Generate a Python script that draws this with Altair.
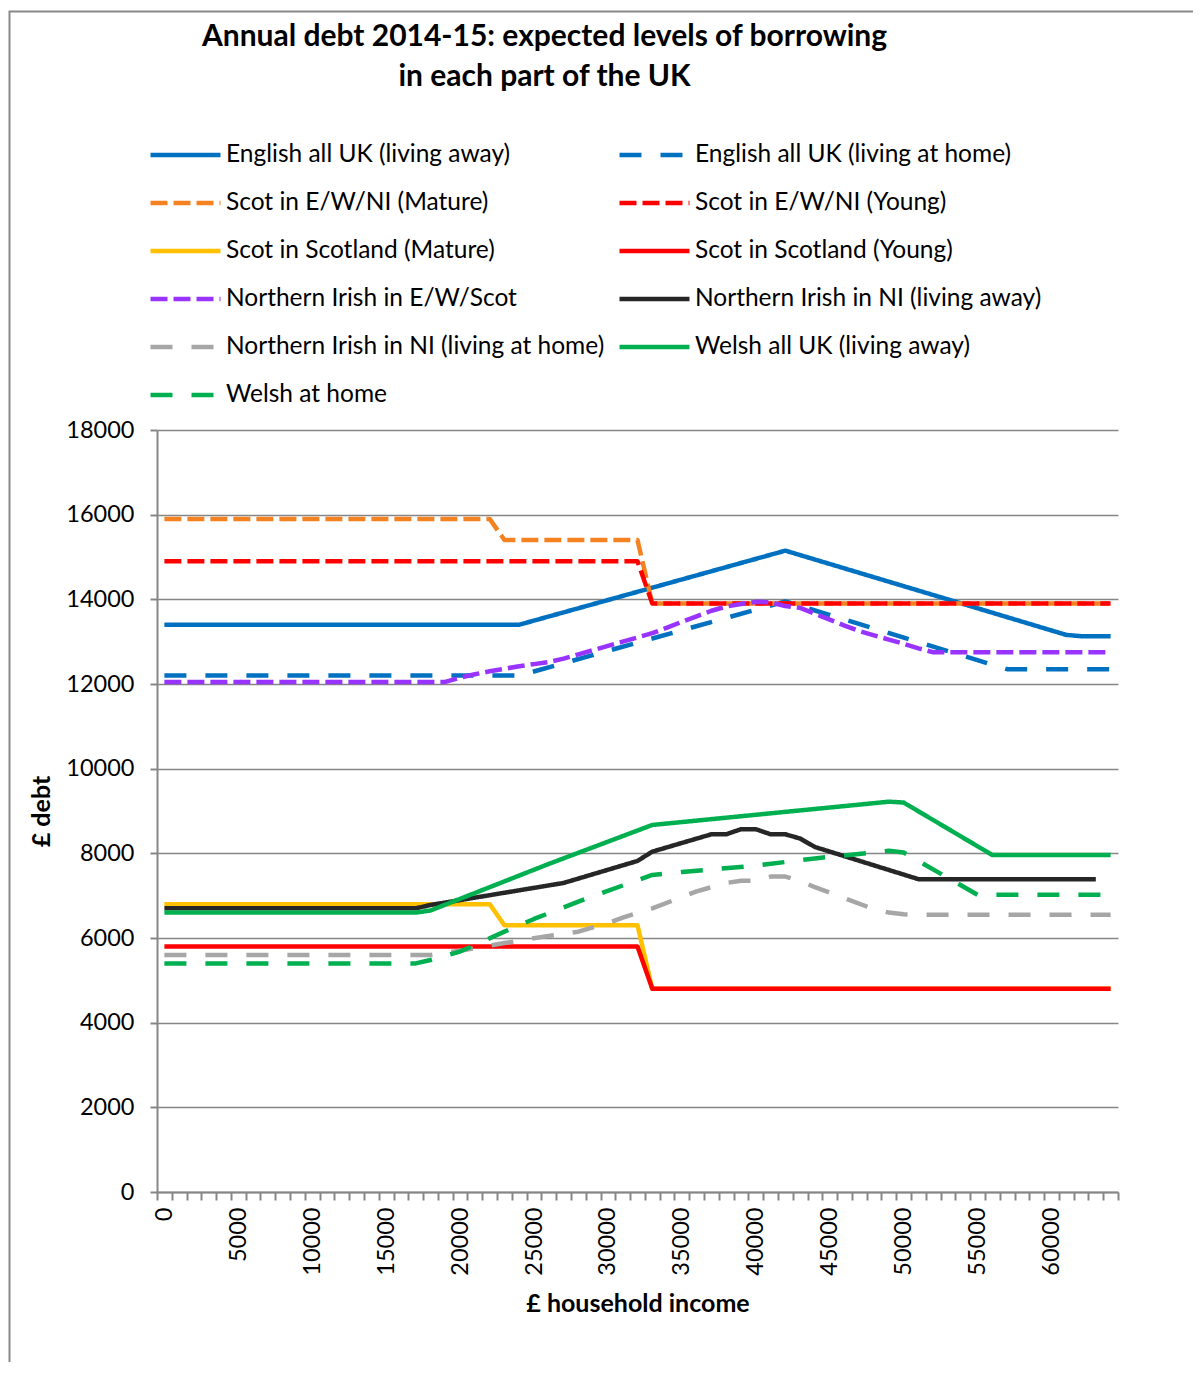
import altair as alt
import pandas as pd

SERIES = [
    "English all UK (living away)",
    "English all UK (living at home)",
    "Scot in E/W/NI (Mature)",
    "Scot in E/W/NI (Young)",
    "Scot in Scotland (Mature)",
    "Scot in Scotland (Young)",
    "Northern Irish in E/W/Scot",
    "Northern Irish in NI (living away)",
    "Northern Irish in NI (living at home)",
    "Welsh all UK (living away)",
    "Welsh at home",
]
COLORS = ["#0070C0", "#0070C0", "#F58220", "#FF0000", "#FFC000", "#FF0000",
          "#9933FF", "#262626", "#A6A6A6", "#00B050", "#00B050"]
SOLID = [1, 0]
SHORT = [17, 6]
LONG = [22, 19]
DASHES = [SOLID, LONG, SHORT, SHORT, SOLID, SOLID, SHORT, SOLID, LONG, SOLID, LONG]

# legend fills column by column; this order gives the reference's row-by-row reading
LEGEND_ORDER = [0, 2, 4, 6, 8, 10, 1, 3, 5, 7, 9]

english_away_x = [0, 24000, 42000, 61000, 62000, 64000]
english_away_y = [13400, 13400, 15150, 13160, 13130, 13130]

english_home_x = [0, 24000, 42000, 57000, 64000]
english_home_y = [12200, 12200, 13950, 12350, 12350]

scot_ewni_mature_x = [0, 22000, 23000, 32000, 33000, 64000]
scot_ewni_mature_y = [15900, 15900, 15400, 15400, 13900, 13900]

scot_ewni_young_x = [0, 32000, 33000, 64000]
scot_ewni_young_y = [14900, 14900, 13900, 13900]

scot_scot_mature_x = [0, 22000, 23000, 32000, 33000, 64000]
scot_scot_mature_y = [6800, 6800, 6300, 6300, 4800, 4800]

scot_scot_young_x = [0, 32000, 33000, 64000]
scot_scot_young_y = [5800, 5800, 4800, 4800]

ni_ewscot_x = [0, 19000, 20000, 21000, 22000, 23000, 24000, 25000, 26000, 27000,
               28000, 29000, 30000, 31000, 32000, 33000, 34000, 35000, 36000, 37000,
               38000, 39000, 40000, 41000, 42000, 43000, 44000, 45000, 46000, 47000,
               48000, 49000, 50000, 51000, 52000, 64000]
ni_ewscot_y = [12050, 12050, 12150, 12230, 12300, 12360, 12420, 12470, 12520, 12600,
               12700, 12800, 12900, 13000, 13100, 13200, 13330, 13470, 13600, 13730,
               13830, 13890, 13940, 13930, 13840, 13800, 13660, 13520, 13380, 13250,
               13150, 13050, 12950, 12840, 12750, 12750]

ni_ni_away_x = [0, 17000, 18000, 27000, 32000, 33000, 37000, 38000, 39000, 40000,
                41000, 42000, 43000, 44000, 51000, 63000]
ni_ni_away_y = [6700, 6700, 6780, 7300, 7820, 8040, 8450, 8450, 8570, 8570,
                8450, 8450, 8350, 8150, 7390, 7390]

ni_ni_home_x = [0, 18000, 20000, 23000, 26000, 28000, 30000, 31000, 33000, 36000,
                38000, 39000, 40000, 41000, 42000, 43000, 44000, 48000, 49000, 50000,
                51000, 64000]
ni_ni_home_y = [5600, 5600, 5700, 5880, 6050, 6150, 6350, 6480, 6700, 7100,
                7300, 7350, 7350, 7450, 7450, 7350, 7200, 6680, 6600, 6560,
                6550, 6550]

welsh_away_x = [0, 17000, 18000, 26000, 33000, 49000, 50000, 56000, 64000]
welsh_away_y = [6600, 6600, 6650, 7750, 8670, 9220, 9200, 7960, 7960]

welsh_home_x = [0, 17000, 18000, 20000, 23000, 25000, 28000, 31000, 33000, 35000,
                40000, 44000, 49000, 50000, 55000, 64000]
welsh_home_y = [5400, 5400, 5480, 5680, 6150, 6450, 6860, 7240, 7490, 7560,
                7710, 7880, 8060, 8020, 7020, 7020]

X_LISTS = [english_away_x, english_home_x, scot_ewni_mature_x, scot_ewni_young_x,
           scot_scot_mature_x, scot_scot_young_x, ni_ewscot_x, ni_ni_away_x,
           ni_ni_home_x, welsh_away_x, welsh_home_x]
Y_LISTS = [english_away_y, english_home_y, scot_ewni_mature_y, scot_ewni_young_y,
           scot_scot_mature_y, scot_scot_young_y, ni_ewscot_y, ni_ni_away_y,
           ni_ni_home_y, welsh_away_y, welsh_home_y]

Y_TICKS = list(range(0, 18001, 2000))
X_AXIS_VALUES = [-500 + 500 * i for i in range(131)]

rows = []
for name, xs, ys in zip(SERIES, X_LISTS, Y_LISTS):
    for xv, yv in zip(xs, ys):
        rows.append({"series": name, "income": xv, "debt": yv})
df = pd.DataFrame(rows)

dom = [SERIES[i] for i in LEGEND_ORDER]
col_range = [COLORS[i] for i in LEGEND_ORDER]
dash_range = [DASHES[i] for i in LEGEND_ORDER]

FONT = "Lato"
GREY = "#868686"

legend = alt.Legend(
    title=None, orient="none", legendX=-9, legendY=-287, columns=2,
    symbolType="stroke", symbolSize=4900, symbolStrokeWidth=4.5,
    labelFontSize=24.5, labelFont=FONT, labelColor="black", labelOffset=3,
    labelLimit=600, clipHeight=24, rowPadding=23, columnPadding=12,
)

lines = alt.Chart(df).mark_line(strokeWidth=4.5, strokeJoin="round", strokeCap="butt").encode(
    x=alt.X("income:Q",
            scale=alt.Scale(domain=[-500, 64500], nice=False, zero=False),
            axis=alt.Axis(
                values=X_AXIS_VALUES, grid=False, title="£ household income",
                labelExpr="datum.value % 5000 === 0 ? datum.label : ''",
                format="d", labelAngle=-90, labelAlign="right", labelBaseline="middle",
                labelOverlap=False, labelPadding=7, labelFontSize=23.5, labelFont=FONT,
                labelColor="black",
                tickSize=8, tickWidth=2, tickColor=GREY,
                tickOpacity={"condition": {"test": "datum.value % 1000 !== 0", "value": 1}, "value": 0},
                domainColor=GREY, domainWidth=2,
                titleFont=FONT, titleFontSize=25, titleFontWeight="bold", titleColor="black",
                titlePadding=16,
            )),
    y=alt.Y("debt:Q",
            scale=alt.Scale(domain=[0, 18000], nice=False),
            axis=alt.Axis(
                values=Y_TICKS, format="d", grid=True, gridColor=GREY, gridWidth=1.5,
                domainColor=GREY, domainWidth=2, tickColor=GREY, tickWidth=2, tickSize=7,
                labelFontSize=23.5, labelFont=FONT, labelColor="black", labelPadding=16,
                title="£ debt", titleFont=FONT, titleFontSize=25, titleFontWeight="bold",
                titleColor="black", titlePadding=11,
            )),
    color=alt.Color("series:N", scale=alt.Scale(domain=dom, range=col_range), legend=legend),
    strokeDash=alt.StrokeDash("series:N", scale=alt.Scale(domain=dom, range=dash_range), legend=legend),
)

frame = alt.Chart(alt.Data(values=[{}])).mark_rect(
    filled=False, stroke="#898989", strokeWidth=2
).encode(
    x=alt.value(-147.5), y=alt.value(-418.5), x2=alt.value(1200), y2=alt.value(1100)
)

chart = alt.layer(frame, lines).properties(
    width=961, height=762,
    autosize=alt.AutoSizeParams(type="none"),
    padding={"left": 149, "top": 422, "right": 75, "bottom": 170},
    title=alt.TitleParams(
        text=["Annual debt 2014-15: expected levels of  borrowing", "in each part of the UK"],
        font=FONT, fontSize=30, fontWeight="bold", color="black",
        anchor="middle", frame="group", dx=-93, dy=85, lineHeight=40,
    ),
).configure_view(stroke=None)

chart.save("out.html", embed_options={"renderer": "svg", "actions": False})
